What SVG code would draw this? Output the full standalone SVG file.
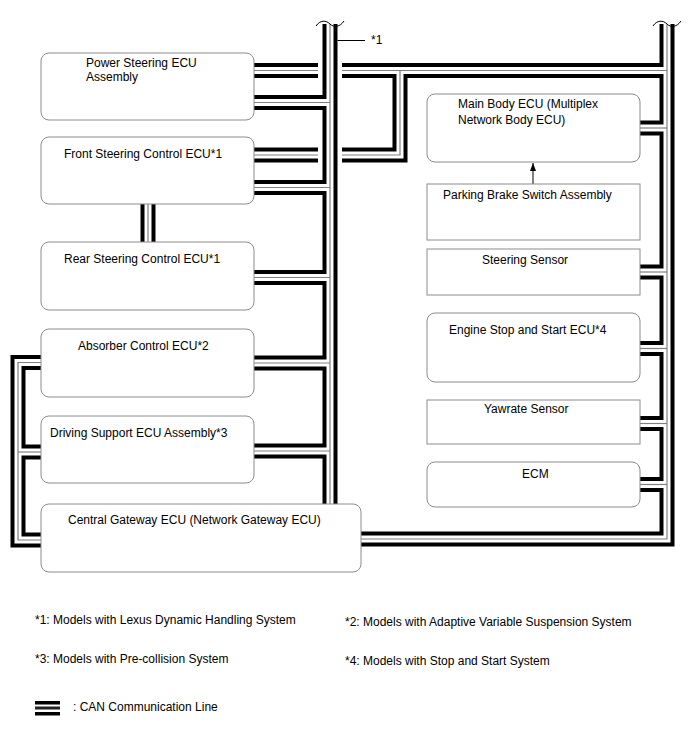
<svg xmlns="http://www.w3.org/2000/svg" xmlns:xlink="http://www.w3.org/1999/xlink" width="688" height="755" viewBox="0 0 688 755">
<style>
.box{fill:#fff;stroke:#8c8c8c;stroke-width:1}
.t{font-family:"Liberation Sans",Arial,sans-serif;font-size:12px;fill:#000}
.bk{fill:none;stroke:#000;stroke-width:15;stroke-linejoin:miter;stroke-linecap:butt}
.wh{fill:none;stroke:#fff;stroke-width:7;stroke-linejoin:miter;stroke-linecap:butt}
.gr{fill:none;stroke:#808080;stroke-width:1.2;stroke-linejoin:miter;stroke-linecap:butt}
.thin{fill:none;stroke:#000;stroke-width:1}
</style>
<defs>
<g id="net">
<path d="M330,24 V506"/>
<path d="M253,102.5 H330"/>
<path d="M253,187.5 H330"/>
<path d="M253,277.5 H330"/>
<path d="M253,363 H330"/>
<path d="M253,451 H330"/>
<path d="M253,70.5 H318"/>
<path d="M342,70.5 H667"/>
<path d="M253,155 H318"/>
<path d="M342,155 H400 V70.5"/>
<path d="M667,24 V539 H360"/>
<path d="M639,128 H667"/>
<path d="M639,272 H667"/>
<path d="M639,348.5 H667"/>
<path d="M639,423.5 H667"/>
<path d="M639,484.5 H667"/>
<path d="M42,362.5 H18 V540 H42"/>
<path d="M18,452 H42"/>
<path d="M148,203 V243"/>
</g>
<marker id="ah" viewBox="0 0 8 6" refX="8" refY="3" markerWidth="8" markerHeight="6" orient="auto" markerUnits="userSpaceOnUse">
<path d="M0,0 L8,3 L0,6 Z" fill="#000"/>
</marker>
</defs>
<g id="connectors">
<use xlink:href="#net" class="bk"/>
<use xlink:href="#net" class="wh"/>
<use xlink:href="#net" class="gr"/>
<path class="thin" d="M316,26 C320,20 326,20 330,24 C334,28 340,27 344,21"/>
<path class="thin" d="M653,26 C657,20 663,20 667,24 C671,28 677,27 681,21"/>
<path class="thin" d="M337.5,40.5 H365"/>
<path class="thin" d="M533,184 V163" marker-end="url(#ah)"/>
</g>
<g id="power-steering"><rect class="box" x="41" y="53" width="213" height="67" rx="8"/><text class="t" x="86" y="67">Power Steering ECU</text><text class="t" x="86" y="81">Assembly</text></g>
<g id="front-steering"><rect class="box" x="41" y="137" width="213" height="67" rx="8"/><text class="t" x="64" y="158">Front Steering Control ECU*1</text></g>
<g id="rear-steering"><rect class="box" x="41" y="242" width="213" height="68" rx="8"/><text class="t" x="64" y="263">Rear Steering Control ECU*1</text></g>
<g id="absorber"><rect class="box" x="41" y="329" width="213" height="68" rx="8"/><text class="t" x="78" y="350">Absorber Control ECU*2</text></g>
<g id="driving-support"><rect class="box" x="41" y="416" width="213" height="67" rx="8"/><text class="t" x="50" y="437">Driving Support ECU Assembly*3</text></g>
<g id="central-gateway"><rect class="box" x="41" y="504" width="320" height="68" rx="8"/><text class="t" x="68" y="524">Central Gateway ECU (Network Gateway ECU)</text></g>
<g id="main-body"><rect class="box" x="427" y="94" width="213" height="68" rx="8"/><text class="t" x="458" y="108">Main Body ECU (Multiplex</text><text class="t" x="458" y="124">Network Body ECU)</text></g>
<g id="parking-brake"><rect class="box" x="427" y="184" width="213" height="56"/><text class="t" x="443" y="199">Parking Brake Switch Assembly</text></g>
<g id="steering-sensor"><rect class="box" x="427" y="249" width="213" height="46"/><text class="t" x="482" y="264">Steering Sensor</text></g>
<g id="engine-stop"><rect class="box" x="427" y="313" width="213" height="69" rx="8"/><text class="t" x="449" y="334">Engine Stop and Start ECU*4</text></g>
<g id="yawrate"><rect class="box" x="427" y="400" width="213" height="44"/><text class="t" x="484" y="413">Yawrate Sensor</text></g>
<g id="ecm"><rect class="box" x="427" y="462" width="213" height="45" rx="8"/><text class="t" x="522" y="478">ECM</text></g>
<g id="notes">
<text class="t" x="371" y="44">*1</text>
<text class="t" x="35" y="624">*1: Models with Lexus Dynamic Handling System</text>
<text class="t" x="345" y="626">*2: Models with Adaptive Variable Suspension System</text>
<text class="t" x="35" y="663">*3: Models with Pre-collision System</text>
<text class="t" x="345" y="665">*4: Models with Stop and Start System</text>
</g>
<g id="legend">
<rect x="35" y="701" width="25" height="3.5" fill="#000"/>
<rect x="35" y="706.5" width="25" height="3" fill="#222"/>
<rect x="35" y="712" width="25" height="3.5" fill="#000"/>
<text class="t" x="73" y="711">: CAN Communication Line</text>
</g>
</svg>
